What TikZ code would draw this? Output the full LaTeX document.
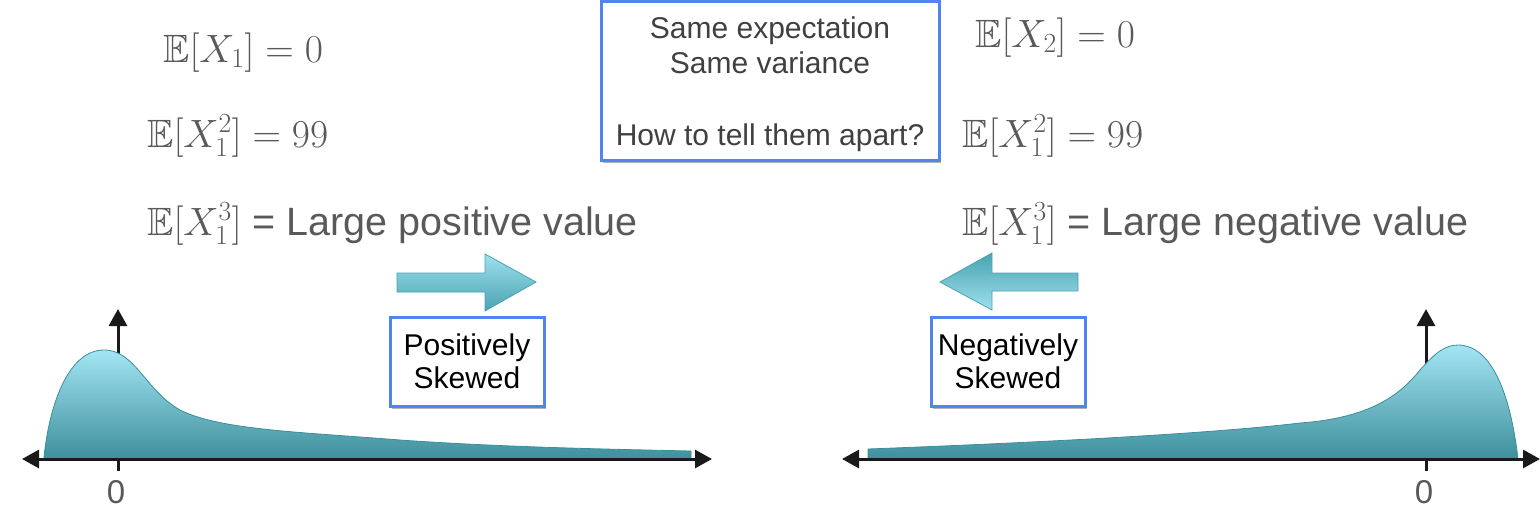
\RequirePackage{fix-cm}
\documentclass[tikz,border=0pt]{standalone}
\usepackage{amsmath,amssymb}
\usepackage[no-math]{fontspec}
\setmainfont{Liberation Sans}
\usetikzlibrary{arrows.meta,shadows}
\definecolor{txtgray}{HTML}{595959}
\definecolor{boxtxt}{HTML}{404040}
\definecolor{boxblue}{HTML}{5084EE}
\definecolor{tealtop}{HTML}{A3E5F4}
\definecolor{tealbot}{HTML}{3E8F9C}
\definecolor{tealedge}{HTML}{3B8E9B}
\definecolor{arrlight}{HTML}{9EE0EE}
\definecolor{arrdark}{HTML}{4AA3B2}
\definecolor{axisblack}{HTML}{1A1A1A}
\tikzset{
  bigtext/.style={text=txtgray, inner sep=0pt, anchor=base west, font=\fontsize{39.5}{46}\selectfont},
  zerolabel/.style={text=txtgray, inner sep=0pt, font=\fontsize{33}{38}\selectfont},
  infobox/.style={draw=boxblue, line width=3pt, fill=white, align=center, inner sep=0pt,
    drop shadow={shadow xshift=1.5pt, shadow yshift=-2.5pt, opacity=0.3, fill=black}},
  skewbox/.style={infobox, text=black, minimum width=154pt, minimum height=89pt,
    font=\fontsize{30}{33}\selectfont},
  axisline/.style={draw=axisblack, line width=3pt},
  axistip/.style={axisline, {Triangle[length=17pt,width=18pt]}-{Triangle[length=17pt,width=18pt]}},
  upaxis/.style={axisline, -{Triangle[length=17pt,width=18pt]}},
  distfill/.style={draw=tealedge, line width=0.8pt, top color=tealtop, bottom color=tealbot},
  blockarrow/.style={draw=arrdark, line width=0.8pt},
}
\begin{document}
\begin{tikzpicture}[x=1pt, y=-1pt]
\useasboundingbox (0,0) rectangle (1540,514);

% ---------- left texts ----------
\node[bigtext] (l1) at (163,62) {$\mathbb{E}[X_1] = 0$};
\node[bigtext] (l2) at (147,147) {$\mathbb{E}[X_1^2] = 99$};
\node[bigtext] (l3) at (147,235) {$\mathbb{E}[X_1^3]$ = Large positive value};

% ---------- right texts ----------
\node[bigtext] (r1) at (975,47) {$\mathbb{E}[X_2] = 0$};
\node[bigtext] (r2) at (962,147) {$\mathbb{E}[X_1^2] = 99$};
\node[bigtext] (r3) at (962,235) {$\mathbb{E}[X_1^3]$ = Large negative value};

% ---------- centre box ----------
\node[infobox, text=boxtxt, minimum width=338pt, minimum height=159pt,
      font=\fontsize{30}{34.5}\selectfont] (center) at (770,80.5)
  {\rule{0pt}{29.5pt}Same expectation\\Same variance\\[37.5pt]How to tell them apart?};

% ---------- block arrows ----------
\path[blockarrow, top color=arrlight, bottom color=arrdark]
  (397,273) -- (485,273) -- (485,254) -- (536,282) -- (485,311) -- (485,292) -- (397,292) -- cycle;
\path[blockarrow, top color=arrdark, bottom color=arrlight]
  (1078,273) -- (992,273) -- (992,253) -- (940,282) -- (992,310) -- (992,291) -- (1078,291) -- cycle;

% ---------- skew boxes ----------
\node[skewbox] (pos) at (467,361.5) {Positively\\Skewed};
\node[skewbox] (neg) at (1008,361.5) {Negatively\\Skewed};

% ---------- left distribution ----------
\coordinate (LxL) at (22,459);
\coordinate (LxR) at (712,459);
\coordinate (Lo) at (118,459);
\coordinate (Ltop) at (118,309);
\coordinate (Ltick) at (118,471);
\draw[upaxis] (Lo) -- (Ltop);
\path[distfill]
  (44,459) -- (44,457) .. controls (50,400) and (70,350) .. (104,350)
  .. controls (135,350) and (145,390) .. (180,410)
  .. controls (220,430) and (300,432) .. (400,440)
  .. controls (500,447) and (600,449) .. (691,451) -- (691,459) -- cycle;
\draw[axistip] (LxL) -- (LxR);
\draw[axisline] (Lo) -- (Ltick);
\node[zerolabel] (L0) at (116,492) {0};

% ---------- right distribution ----------
\coordinate (RxL) at (842,459);
\coordinate (RxR) at (1540,459);
\coordinate (Ro) at (1426,459);
\coordinate (Rtop) at (1426,309);
\coordinate (Rtick) at (1426,471);
\draw[upaxis] (Ro) -- (Rtop);
\path[distfill]
  (868,459) -- (868,449) .. controls (1000,444) and (1200,435) .. (1300,423)
  .. controls (1370,418) and (1400,395) .. (1420,370)
  .. controls (1435,353) and (1445,345) .. (1458,345)
  .. controls (1490,345) and (1510,390) .. (1518,459) -- cycle;
\draw[axistip] (RxL) -- (RxR);
\draw[axisline] (Ro) -- (Rtick);
\node[zerolabel] (R0) at (1424,492) {0};
\end{tikzpicture}
\end{document}
